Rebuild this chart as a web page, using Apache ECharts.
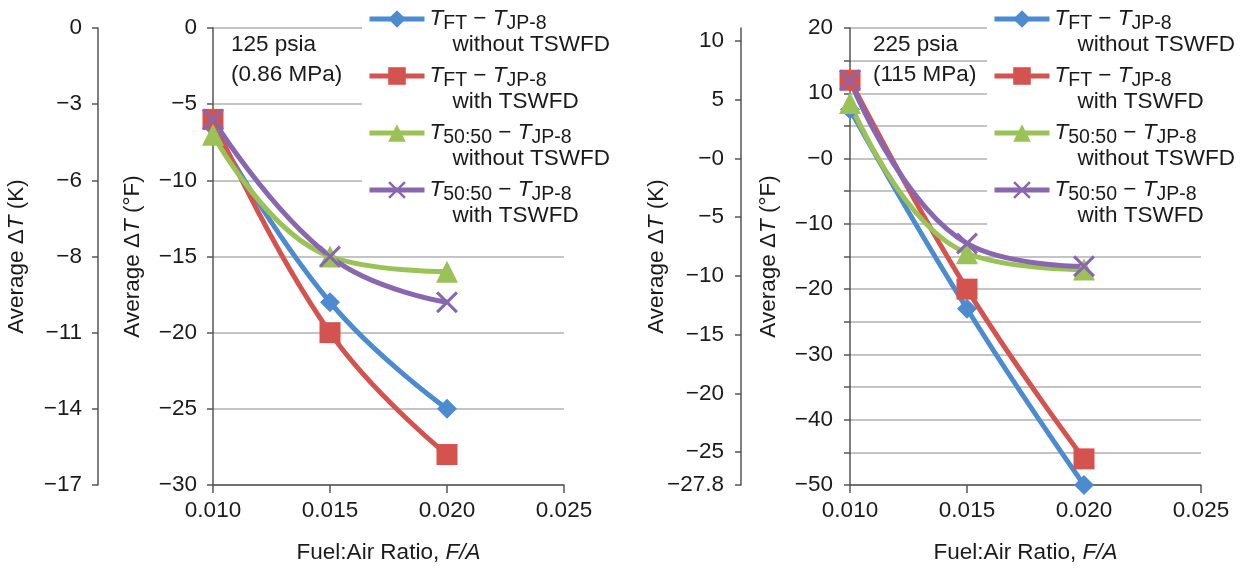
<!DOCTYPE html>
<html>
<head>
<meta charset="utf-8">
<script src="https://cdn.jsdelivr.net/npm/echarts@6/dist/echarts.min.js"></script>
<style>
  html, body { margin: 0; padding: 0; background: #fff; }
  #chart { width: 1247px; height: 572px; }
</style>
</head>
<body>
<div id="chart"></div>
<script>
// Fuel:air ratios tested in both panels
const fuelAirRatios = [0.010, 0.015, 0.020];
const xTickValues = [0.010, 0.015, 0.020, 0.025];

// 125 psia (0.86 MPa): average temperature difference, °F
const lowFtWithout = [-6.5, -18, -25];
const lowFtWith = [-6, -20, -28];
const lowBlendWithout = [-7, -15, -16];
const lowBlendWith = [-6, -15, -18];

// 225 psia (115 MPa): average temperature difference, °F
const highFtWithout = [7.5, -23, -50];
const highFtWith = [12, -20, -46];
const highBlendWithout = [8.5, -14.5, -17];
const highBlendWith = [12, -13, -16.5];

// Legend parts: fuel subscript and seal-duct condition
const seriesFuel = ['FT', 'FT', '50:50', '50:50'];
const seriesCondition = ['without TSWFD', 'with TSWFD', 'without TSWFD', 'with TSWFD'];

// °F scales and the matching kelvin tick labels
const lowFRange = [-30, 0];
const highFRange = [-50, 20];
const lowKTickLabels = ['0', '\u22123', '\u22126', '\u22128', '\u221211', '\u221214', '\u221217'];
const lowFTicksForK = [0, -5, -10, -15, -20, -25, -30];
const highKTickValues = [10, 5, 0, -5, -10, -15, -20, -25, -27.8];
const highKTickLabels = ['10', '5', '\u22120', '\u22125', '\u221210', '\u221215', '\u221220', '\u221225', '\u221227.8'];

const panelNotes = ['125 psia\n(0.86 MPa)', '225 psia\n(115 MPa)'];

const FONT = '"Liberation Sans", Arial, sans-serif';
const TXT = '#1a1a1a';
const AXIS = '#555555';
const GRID_LINE = '#b0b0b0';
const FS = 22.5;
const colors = ['#4C8BD0', '#D4534F', '#9BC257', '#8866B0'];
const symbols = ['diamond', 'rect', 'triangle',
  'path://M0,1 L1,0 L5,4 L9,0 L10,1 L6,5 L10,9 L9,10 L5,6 L1,10 L0,9 L4,5 Z'];
const symbolSizes = [20, 21, 22, 22];

const toK = f => f * 5 / 9;
const signed = v => (v < 0 ? '\u2212' + String(Math.abs(v)) : String(v));
const names = seriesFuel.map((f, i) => 'T' + f + ' \u2212 TJP-8 ' + seriesCondition[i]);

const richText = {
  it: { fontFamily: FONT, fontSize: FS, fontStyle: 'italic', color: TXT, lineHeight: 26 },
  n: { fontFamily: FONT, fontSize: FS, color: TXT, lineHeight: 26 },
  sub: { fontFamily: FONT, fontSize: 19.5, color: TXT, lineHeight: 16, padding: [10, 0, 0, 0] },
  ind: { fontFamily: FONT, fontSize: FS, color: TXT, lineHeight: 26, padding: [0, 0, 0, 23] }
};

const chart = echarts.init(document.getElementById('chart'), null, { renderer: 'canvas' });

const grids = [
  { left: 213, top: 28, width: 351, height: 457 },
  { left: 850, top: 28, width: 351, height: 457 }
].map(g => Object.assign(g, { containLabel: false, outerBoundsMode: 'none' }));

function xAxisFor(gi) {
  return {
    type: 'value', gridIndex: gi,
    min: xTickValues[0], max: xTickValues[xTickValues.length - 1], interval: 0.005,
    name: 'Fuel:Air Ratio, {it|F/A}', nameLocation: 'middle', nameGap: 56, nameMoveOverlap: false,
    nameTextStyle: { fontFamily: FONT, fontSize: FS, color: TXT, rich: { it: { fontFamily: FONT, fontSize: FS, fontStyle: 'italic', color: TXT } } },
    axisLine: { show: true, onZero: false, lineStyle: { color: AXIS, width: 1.5 } },
    axisTick: { show: true, inside: false, length: 8, lineStyle: { color: AXIS, width: 1.5 } },
    axisLabel: { margin: 14, fontFamily: FONT, fontSize: FS, color: TXT, formatter: v => v.toFixed(3) },
    splitLine: { show: false }
  };
}

const yName = unit => 'Average \u0394{it|T} (' + unit + ')';
const yNameStyle = { fontFamily: FONT, fontSize: FS, color: TXT, rich: { it: { fontFamily: FONT, fontSize: FS, fontStyle: 'italic', color: TXT } } };
const axisLineStyle = { show: true, onZero: false, lineStyle: { color: AXIS, width: 1.5 } };
const tickStyle = { show: true, inside: false, length: 6, lineStyle: { color: AXIS, width: 1.5 } };

function nearestLabel(values, labels, v) {
  let best = 0;
  values.forEach((t, i) => { if (Math.abs(t - v) < Math.abs(values[best] - v)) best = i; });
  return labels[best];
}

const lowKValues = lowFTicksForK.map(toK);
const highKValues = highKTickValues;
// kelvin scale of the 225 psia panel spans the same height as its °F scale
const highKMin = Math.min(toK(highFRange[0]), highKValues[highKValues.length - 1]);

const yAxes = [
  // 125 psia, kelvin
  {
    type: 'value', gridIndex: 0, position: 'left', offset: 115,
    min: toK(lowFRange[0]), max: toK(lowFRange[1]),
    name: yName('K'), nameLocation: 'middle', nameGap: 70, nameMoveOverlap: false, nameTextStyle: yNameStyle,
    axisLine: axisLineStyle,
    axisTick: Object.assign({}, tickStyle, { customValues: lowKValues }),
    axisLabel: { customValues: lowKValues, margin: 16, fontFamily: FONT, fontSize: FS, color: TXT,
      formatter: v => nearestLabel(lowKValues, lowKTickLabels, v) },
    splitLine: { show: false }
  },
  // 125 psia, °F
  {
    type: 'value', gridIndex: 0, position: 'left',
    min: lowFRange[0], max: lowFRange[1], interval: 5,
    name: yName('\u00b0F'), nameLocation: 'middle', nameGap: 69, nameMoveOverlap: false, nameTextStyle: yNameStyle,
    axisLine: axisLineStyle, axisTick: tickStyle,
    axisLabel: { margin: 16, fontFamily: FONT, fontSize: FS, color: TXT, formatter: v => signed(v) },
    splitLine: { show: true, lineStyle: { color: GRID_LINE, width: 1.5 } }
  },
  // 225 psia, kelvin
  {
    type: 'value', gridIndex: 1, position: 'left', offset: 109,
    min: highKMin, max: toK(highFRange[1]),
    name: yName('K'), nameLocation: 'middle', nameGap: 73, nameMoveOverlap: false, nameTextStyle: yNameStyle,
    axisLine: axisLineStyle,
    axisTick: Object.assign({}, tickStyle, { customValues: highKValues }),
    axisLabel: { customValues: highKValues, margin: 17, fontFamily: FONT, fontSize: FS, color: TXT,
      formatter: v => nearestLabel(highKValues, highKTickLabels, v) },
    splitLine: { show: false }
  },
  // 225 psia, °F
  {
    type: 'value', gridIndex: 1, position: 'left',
    min: highFRange[0], max: highFRange[1], interval: 5,
    name: yName('\u00b0F'), nameLocation: 'middle', nameGap: 70, nameMoveOverlap: false, nameTextStyle: yNameStyle,
    axisLine: axisLineStyle, axisTick: tickStyle,
    axisLabel: { margin: 17, fontFamily: FONT, fontSize: FS, color: TXT,
      formatter: v => (v % 10 === 0 ? (v === 0 ? '\u22120' : signed(v)) : '') },
    splitLine: { show: true, lineStyle: { color: GRID_LINE, width: 1.5 } }
  }
];

function panelSeries(sets, xi, yi) {
  return sets.map((vals, i) => ({
    type: 'line', name: names[i], xAxisIndex: xi, yAxisIndex: yi,
    data: fuelAirRatios.map((x, j) => [x, vals[j]]),
    smooth: 0.45,
    symbol: symbols[i], symbolSize: symbolSizes[i],
    lineStyle: { width: 5, color: colors[i] },
    itemStyle: { color: colors[i], borderWidth: 0 },
    emphasis: { disabled: true }
  }));
}

function legendAt(left) {
  return {
    orient: 'vertical', left: left, top: -25,
    padding: [5, 5, 5, 5], itemGap: -21, itemWidth: 55, itemHeight: 22,
    backgroundColor: '#ffffff', selectedMode: false,
    data: names,
    lineStyle: { width: 5 },
    textStyle: { fontFamily: FONT, fontSize: FS, color: TXT, lineHeight: 26, rich: richText },
    formatter: name => {
      const i = names.indexOf(name);
      return '\n{it|T}{sub|' + seriesFuel[i] + '}{n| \u2212 }{it|T}{sub|JP-8}\n{ind|' + seriesCondition[i] + '}';
    }
  };
}

chart.setOption({
  animation: false,
  backgroundColor: '#ffffff',
  title: [
    { text: panelNotes[0], left: 231, top: 30, padding: 0,
      textStyle: { fontFamily: FONT, fontSize: FS, fontWeight: 'normal', color: TXT, lineHeight: 30 } },
    { text: panelNotes[1], left: 873, top: 30, padding: 0,
      textStyle: { fontFamily: FONT, fontSize: FS, fontWeight: 'normal', color: TXT, lineHeight: 30 } }
  ],
  legend: [legendAt(362), legendAt(987)],
  grid: grids,
  xAxis: [xAxisFor(0), xAxisFor(1)],
  yAxis: yAxes,
  series: [
    ...panelSeries([lowFtWithout, lowFtWith, lowBlendWithout, lowBlendWith], 0, 1),
    ...panelSeries([highFtWithout, highFtWith, highBlendWithout, highBlendWith], 1, 3)
  ]
});
</script>
</body>
</html>
